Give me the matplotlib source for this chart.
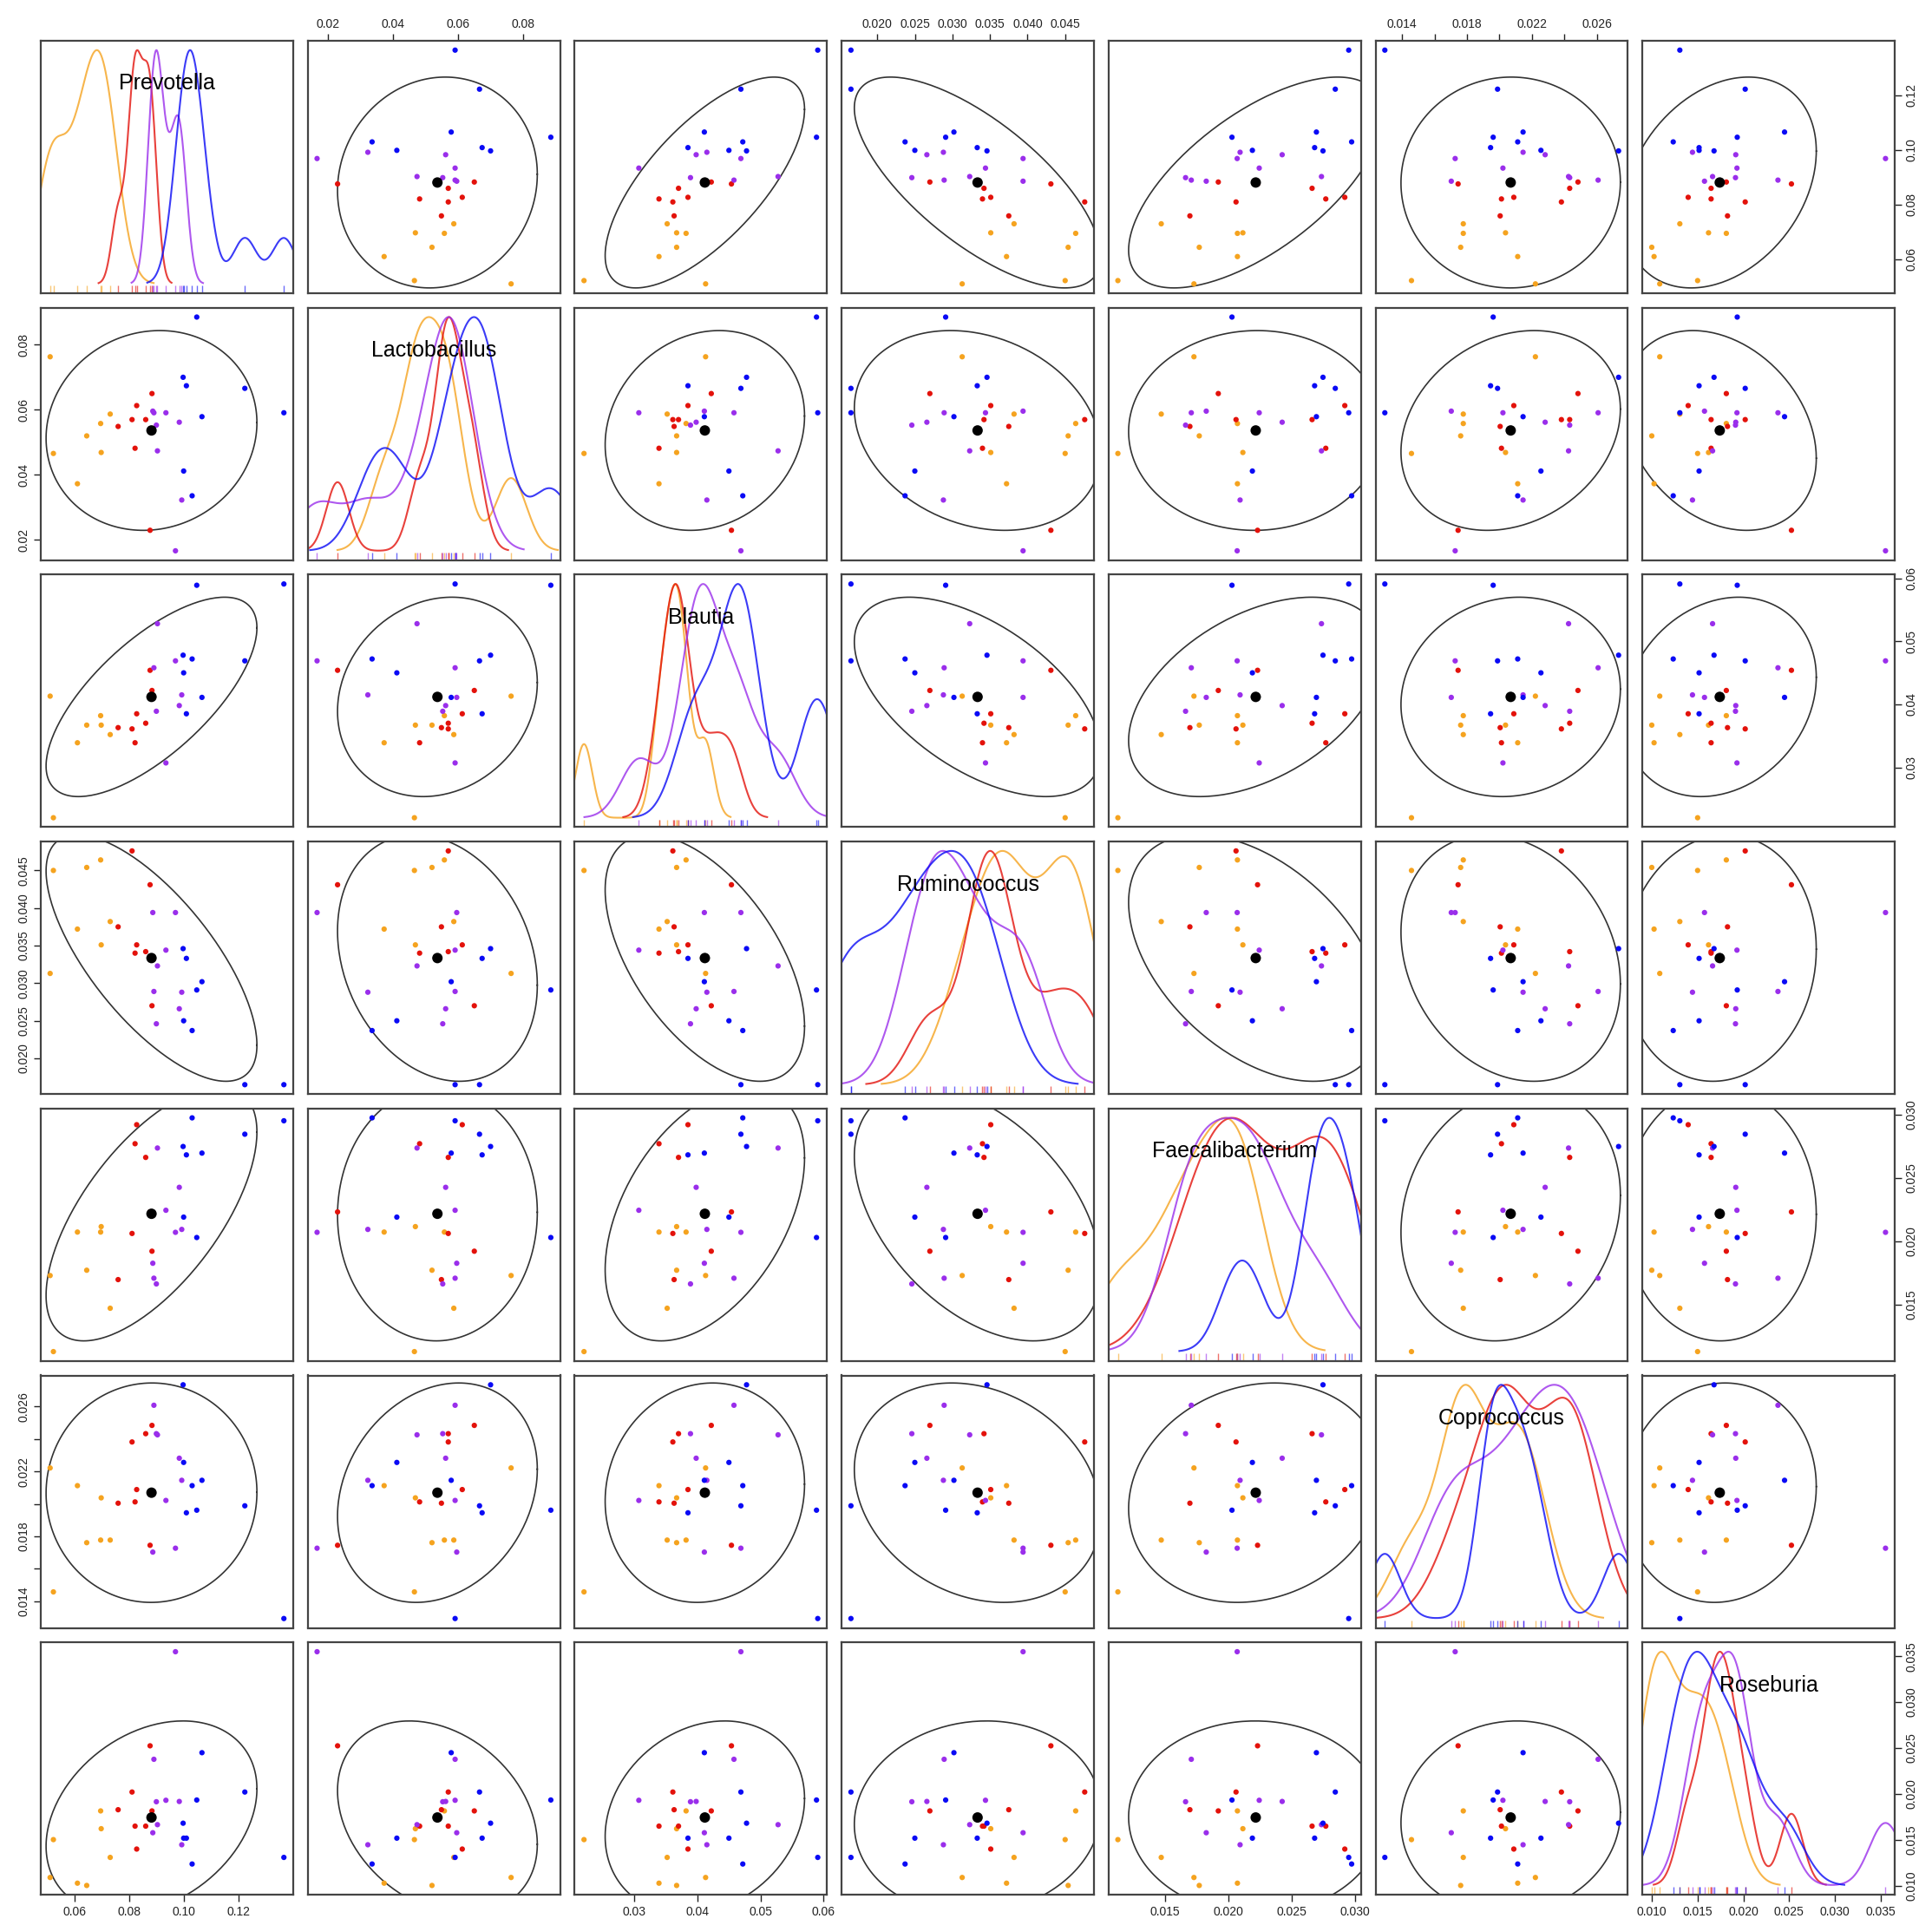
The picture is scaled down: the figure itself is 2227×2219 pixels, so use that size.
import numpy as np
import matplotlib.pyplot as plt
from matplotlib.ticker import FuncFormatter

plt.rcParams['font.family'] = ['Liberation Sans', 'DejaVu Sans']

# taxa (variables) in panel order
taxa = ["Prevotella", "Lactobacillus", "Blautia", "Ruminococcus",
        "Faecalibacterium", "Coprococcus", "Roseburia"]

# group colours and sizes (samples are listed group by group)
group_colors = ["#F5A31F", "#E3120B", "#9A2EEB", "#0A0AF5"]
group_sizes = [7, 7, 8, 8]

prevotella = [0.0509, 0.0521, 0.0609, 0.0643, 0.0694, 0.0696, 0.0729,
              0.0758, 0.0809, 0.0820, 0.0826, 0.0859, 0.0875, 0.0882,
              0.0885, 0.0889, 0.0898, 0.0902, 0.0933, 0.0968, 0.0982, 0.0991,
              0.0996, 0.0998, 0.1008, 0.1029, 0.1046, 0.1065, 0.1222, 0.1365]
lactobacillus = [0.0762, 0.0465, 0.0372, 0.0519, 0.0557, 0.0468, 0.0586,
                 0.0548, 0.0569, 0.0481, 0.0612, 0.0569, 0.0229, 0.0649,
                 0.0595, 0.0590, 0.0552, 0.0473, 0.0590, 0.0166, 0.0561, 0.0322,
                 0.0699, 0.0411, 0.0673, 0.0335, 0.0884, 0.0578, 0.0665, 0.0590]
blautia = [0.0413, 0.0220, 0.0339, 0.0367, 0.0382, 0.0367, 0.0352,
           0.0363, 0.0361, 0.0339, 0.0385, 0.0370, 0.0454, 0.0422,
           0.0411, 0.0458, 0.0389, 0.0528, 0.0307, 0.0469, 0.0398, 0.0415,
           0.0478, 0.0450, 0.0385, 0.0472, 0.0589, 0.0411, 0.0469, 0.0591]
ruminococcus = [0.0313, 0.0450, 0.0372, 0.0454, 0.0464, 0.0351, 0.0382,
                0.0375, 0.0476, 0.0340, 0.0351, 0.0342, 0.0431, 0.0270,
                0.0394, 0.0289, 0.0246, 0.0323, 0.0344, 0.0394, 0.0266, 0.0288,
                0.0346, 0.0250, 0.0333, 0.0237, 0.0291, 0.0302, 0.0165, 0.0165]
faecalibacterium = [0.01729, 0.01129, 0.02072, 0.01771, 0.02072, 0.02115, 0.01471,
                    0.01697, 0.02061, 0.02769, 0.02919, 0.02661, 0.02231, 0.01921,
                    0.01826, 0.01708, 0.01663, 0.02735, 0.02244, 0.02070, 0.02425, 0.02093,
                    0.02747, 0.02190, 0.02681, 0.02973, 0.02029, 0.02695, 0.02844, 0.02950]
coprococcus = [0.02221, 0.01458, 0.02112, 0.01761, 0.01777, 0.02037, 0.01777,
               0.02004, 0.02381, 0.02012, 0.02088, 0.02432, 0.01745, 0.02483,
               0.01703, 0.02607, 0.02432, 0.02425, 0.02021, 0.01727, 0.02281, 0.02145,
               0.02733, 0.02255, 0.01945, 0.02112, 0.01961, 0.02145, 0.01988, 0.01294]
roseburia = [0.01088, 0.01501, 0.01026, 0.01001, 0.01814, 0.01620, 0.01307,
             0.01827, 0.02020, 0.01648, 0.01398, 0.01648, 0.02524, 0.01814,
             0.01576, 0.02377, 0.01914, 0.01664, 0.01930, 0.03550, 0.01917, 0.01445,
             0.01680, 0.01517, 0.01517, 0.01235, 0.01933, 0.02449, 0.02020, 0.01307]

# axis ticks per variable, and which of them get a label
ticks = [[0.06, 0.08, 0.10, 0.12],
         [0.02, 0.04, 0.06, 0.08],
         [0.03, 0.04, 0.05, 0.06],
         [0.020, 0.025, 0.030, 0.035, 0.040, 0.045],
         [0.015, 0.020, 0.025, 0.030],
         [0.014, 0.016, 0.018, 0.020, 0.022, 0.024, 0.026],
         [0.010, 0.015, 0.020, 0.025, 0.030, 0.035]]
labelled = [None, None, None, None, None,
            [0.014, 0.018, 0.022, 0.026], None]
decimals = [2, 2, 2, 3, 3, 3, 3]

data = np.array([prevotella, lactobacillus, blautia, ruminococcus,
                 faecalibacterium, coprococcus, roseburia])
nv = len(taxa)
group_idx = np.repeat(np.arange(len(group_sizes)), group_sizes)
point_colors = [group_colors[g] for g in group_idx]

lims = []
for v in data:
    r = v.max() - v.min()
    lims.append((v.min() - 0.04 * r, v.max() + 0.04 * r))


def bandwidth(vals):
    # R's bw.nrd0
    n = len(vals)
    sd = np.std(vals, ddof=1)
    q75, q25 = np.percentile(vals, [75, 25])
    lo = min(sd, (q75 - q25) / 1.34) if q75 > q25 else sd
    return 0.9 * lo * n ** -0.2


def kde(vals, grid, bw):
    z = (grid[:, None] - vals[None, :]) / bw
    return np.exp(-0.5 * z ** 2).sum(axis=1) / (len(vals) * bw * np.sqrt(2 * np.pi))


def ellipse(x, y, c=2.05, npts=200):
    cov = np.cov(x, y)
    L = np.linalg.cholesky(cov)
    t = np.linspace(0, 2 * np.pi, npts)
    pts = L @ np.vstack([np.cos(t), np.sin(t)]) * c
    return x.mean() + pts[0], y.mean() + pts[1]


def fmt(k):
    keep = labelled[k]

    def f(val, pos):
        if keep is not None and not any(abs(val - q) < 1e-9 for q in keep):
            return ""
        return f"{val:.{decimals[k]}f}"
    return FuncFormatter(f)


W, H = 2227, 2219
fig = plt.figure(figsize=(W / 100, H / 100), dpi=100)
x0, y0, pitch, size = 47, 47, 307.7, 291

for i in range(nv):
    for j in range(nv):
        left = (x0 + j * pitch) / W
        bottom = 1 - (y0 + i * pitch + size) / H
        ax = fig.add_axes([left, bottom, size / W, size / H])
        ax.set_xlim(lims[j])
        ax.set_ylim(lims[i])
        if i == j:
            v = data[i]
            lo, hi = v.min(), v.max()
            span = lims[i][1] - lims[i][0]
            for g, col in enumerate(group_colors):
                vals = v[group_idx == g]
                bw = bandwidth(vals)
                # R density() default range: data range +- 3 bandwidths
                grid = np.linspace(vals.min() - 3 * bw, vals.max() + 3 * bw, 512)
                d = kde(vals, grid, bw)
                d = d / d.max()
                ax.plot(grid, lo + d * (hi - lo), color=col, lw=1.5, alpha=0.8)
                ax.vlines(vals, lims[i][0], lims[i][0] + 0.03 * span,
                          color=col, lw=1.0, alpha=0.6)
            ax.text(0.5, 0.83, taxa[i], transform=ax.transAxes,
                    ha="center", va="center", fontsize=18)
        else:
            x, y = data[j], data[i]
            ex, ey = ellipse(x, y)
            ax.plot(ex, ey, color="#333333", lw=1.2)
            ax.scatter(x, y, s=20, c=point_colors, edgecolors="none", zorder=3)
            ax.scatter([x.mean()], [y.mean()], s=75, c="black",
                       edgecolors="none", zorder=4)

        for sp in ax.spines.values():
            sp.set_color("#444444")
            sp.set_linewidth(1.6)
        ax.set_xticks([])
        ax.set_yticks([])
        ax.tick_params(length=6, width=1.0, labelsize=10, pad=3,
                       colors="#222222")

        if i == 0 and j % 2 == 1:
            ax.xaxis.tick_top()
            ax.set_xticks(ticks[j])
            ax.xaxis.set_major_formatter(fmt(j))
        if i == nv - 1 and j % 2 == 0:
            ax.xaxis.tick_bottom()
            ax.set_xticks(ticks[j])
            ax.xaxis.set_major_formatter(fmt(j))
        if j == 0 and i % 2 == 1:
            ax.yaxis.tick_left()
            ax.set_yticks(ticks[i])
            ax.yaxis.set_major_formatter(fmt(i))
            for lab in ax.get_yticklabels():
                lab.set_rotation(90)
                lab.set_va("center")
        if j == nv - 1 and i % 2 == 0:
            ax.yaxis.tick_right()
            ax.set_yticks(ticks[i])
            ax.yaxis.set_major_formatter(fmt(i))
            for lab in ax.get_yticklabels():
                lab.set_rotation(90)
                lab.set_va("center")

fig.savefig("out.png", dpi=100)
